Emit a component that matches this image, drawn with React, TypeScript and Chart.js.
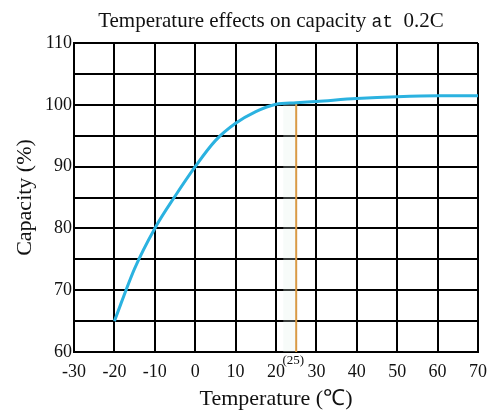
import React, { useEffect, useRef } from "react";
import { Chart, registerables } from "chart.js";

Chart.register(...registerables);

// Data
const temperatures = [-20, -15, -10, -5, 0, 5, 10, 15, 20, 25, 30, 40, 50, 60, 70];
const capacity = [65, 73.5, 80, 85.2, 90, 94.2, 97, 98.9, 100.1, 100.35, 100.55, 101.0, 101.3, 101.45, 101.45];
const markerTemp = 25;
const markerRange = [60, 100.35];
const xTickValues = [-30, -20, -10, 0, 10, 20, 30, 40, 50, 60, 70];
const yTickValues = [60, 70, 80, 90, 100, 110];
const titleParts = ["Temperature effects on capacity ", "at", "  0.2C"];
const xAxisTitle = "Temperature (\u2103)";
const yAxisTitle = "Capacity (%)";
const superscriptLabel = "(25)";

const SERIF = '"Liberation Serif", "Times New Roman", serif';
const MONO = '"Liberation Mono", "Courier New", monospace';

export default function App() {
  const ref = useRef<HTMLCanvasElement | null>(null);

  useEffect(() => {
    const canvas = ref.current;
    if (!canvas) return;

    const curve = temperatures.map((t, i) => ({ x: t, y: capacity[i] }));
    const marker = markerRange.map((v) => ({ x: markerTemp, y: v }));

    const decorPlugin = {
      id: "decor",
      beforeDatasetsDraw(chart: any) {
        const { ctx, chartArea, scales } = chart;
        const x0 = scales.x.getPixelForValue(markerTemp - 3.2);
        const x1 = scales.x.getPixelForValue(markerTemp);
        const yTop = scales.y.getPixelForValue(100.2);
        ctx.save();
        ctx.fillStyle = "rgba(225,238,230,0.25)";
        ctx.fillRect(x0, yTop, x1 - x0, chartArea.bottom - yTop);
        ctx.restore();
      },
      afterDraw(chart: any) {
        const { ctx, scales } = chart;
        ctx.save();
        // Title with mixed fonts
        const fonts = [`21px ${SERIF}`, `18px ${MONO}`, `21px ${SERIF}`];
        let total = 0;
        const widths = titleParts.map((p, i) => {
          ctx.font = fonts[i];
          const w = ctx.measureText(p).width;
          total += w;
          return w;
        });
        let x = 271 - total / 2;
        ctx.fillStyle = "#111";
        ctx.textBaseline = "alphabetic";
        ctx.textAlign = "left";
        titleParts.forEach((p, i) => {
          ctx.font = fonts[i];
          ctx.fillText(p, x, 27);
          x += widths[i];
        });
        // superscript (25)
        ctx.font = `13px ${SERIF}`;
        ctx.textAlign = "center";
        ctx.textBaseline = "middle";
        ctx.fillText(superscriptLabel, scales.x.getPixelForValue(24.3), 361);
        ctx.restore();
      },
    };

    const chart = new Chart(canvas, {
      type: "line",
      data: {
        datasets: [
          {
            label: "Capacity",
            data: curve,
            borderColor: "#2bb2e0",
            borderWidth: 3,
            pointRadius: 0,
            cubicInterpolationMode: "monotone",
            fill: false,
          },
          {
            label: "25",
            data: marker,
            borderColor: "#d99a45",
            borderWidth: 2,
            pointRadius: 0,
            fill: false,
          },
        ],
      },
      options: {
        animation: false,
        responsive: false,
        layout: { padding: { top: 43, right: 19, left: 0, bottom: 0 } },
        plugins: {
          legend: { display: false },
          tooltip: { enabled: false },
          title: { display: false },
        },
        scales: {
          x: {
            type: "linear",
            min: -30,
            max: 70,
            afterBuildTicks: (scale: any) => {
              scale.ticks = xTickValues.map((v) => ({ value: v }));
            },
            ticks: {
              color: "#111",
              font: { family: SERIF, size: 18 },
              padding: 9,
              maxRotation: 0,
              autoSkip: false,
              callback: (v: any) => String(v),
            },
            grid: { color: "#000", lineWidth: 2, drawTicks: false },
            border: { color: "#000", width: 2 },
            title: {
              display: true,
              text: xAxisTitle,
              color: "#111",
              font: { family: SERIF, size: 22 },
              padding: { top: 0, bottom: 2 },
            },
            afterFit: (scale: any) => {
              scale.height = 62;
            },
          },
          y: {
            type: "linear",
            min: 60,
            max: 110,
            afterBuildTicks: (scale: any) => {
              const t: any[] = [];
              for (let v = 60; v <= 110; v += 5) t.push({ value: v });
              scale.ticks = t;
            },
            ticks: {
              color: "#111",
              font: { family: SERIF, size: 18 },
              padding: 2,
              autoSkip: false,
              callback: (v: any) => (yTickValues.includes(Number(v)) ? String(v) : ""),
            },
            grid: { color: "#000", lineWidth: 2, drawTicks: false },
            border: { color: "#000", width: 2 },
            title: {
              display: true,
              text: yAxisTitle,
              color: "#111",
              font: { family: SERIF, size: 22 },
              padding: { top: 12, bottom: 0 },
            },
            afterFit: (scale: any) => {
              scale.width = 74;
            },
          },
        },
      },
      plugins: [decorPlugin],
    } as any);

    return () => chart.destroy();
  }, []);

  return (
    <div style={{ position: "absolute", left: 0, top: 0, width: 497, height: 414, background: "#fff" }}>
      <canvas ref={ref} width={497} height={414} style={{ display: "block" }} />
    </div>
  );
}
